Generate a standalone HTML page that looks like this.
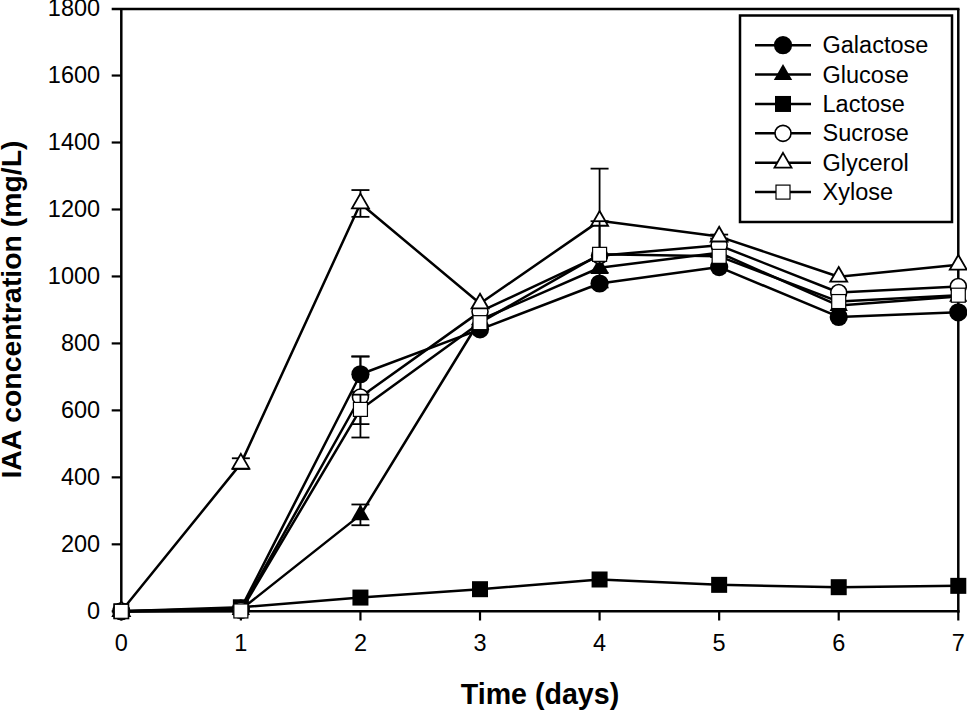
<!DOCTYPE html>
<html><head><meta charset="utf-8"><style>
html,body{margin:0;padding:0;background:#fff;width:967px;height:710px;overflow:hidden;}
svg{display:block;}
text{font-family:"Liberation Sans",sans-serif;}
</style></head><body>
<svg width="967" height="710" viewBox="0 0 967 710">
<rect width="967" height="710" fill="#fff"/>
<g stroke="#000" stroke-width="2.5" fill="none"><line x1="121.3" y1="8" x2="121.3" y2="612.55" /><line x1="120.05" y1="611.3" x2="959.54" y2="611.3" /><line x1="958.29" y1="612.55" x2="958.29" y2="8.9" /><line x1="959.54" y1="8.9" x2="111.7" y2="8.9" /></g>
<g stroke="#000" stroke-width="2.2" fill="none"><line x1="111.7" y1="611.30" x2="121.3" y2="611.30" /><line x1="111.7" y1="544.33" x2="121.3" y2="544.33" /><line x1="111.7" y1="477.36" x2="121.3" y2="477.36" /><line x1="111.7" y1="410.39" x2="121.3" y2="410.39" /><line x1="111.7" y1="343.42" x2="121.3" y2="343.42" /><line x1="111.7" y1="276.45" x2="121.3" y2="276.45" /><line x1="111.7" y1="209.48" x2="121.3" y2="209.48" /><line x1="111.7" y1="142.51" x2="121.3" y2="142.51" /><line x1="111.7" y1="75.54" x2="121.3" y2="75.54" /><line x1="121.30" y1="611.3" x2="121.30" y2="620.5" /><line x1="240.87" y1="611.3" x2="240.87" y2="620.5" /><line x1="360.44" y1="611.3" x2="360.44" y2="620.5" /><line x1="480.01" y1="611.3" x2="480.01" y2="620.5" /><line x1="599.58" y1="611.3" x2="599.58" y2="620.5" /><line x1="719.15" y1="611.3" x2="719.15" y2="620.5" /><line x1="838.72" y1="611.3" x2="838.72" y2="620.5" /><line x1="958.29" y1="611.3" x2="958.29" y2="620.5" /></g>
<g font-family="Liberation Sans" font-size="23.5" fill="#000"><text x="100.1" y="618.60" text-anchor="end">0</text><text x="100.1" y="551.63" text-anchor="end">200</text><text x="100.1" y="484.66" text-anchor="end">400</text><text x="100.1" y="417.69" text-anchor="end">600</text><text x="100.1" y="350.72" text-anchor="end">800</text><text x="100.1" y="283.75" text-anchor="end">1000</text><text x="100.1" y="216.78" text-anchor="end">1200</text><text x="100.1" y="149.81" text-anchor="end">1400</text><text x="100.1" y="82.84" text-anchor="end">1600</text><text x="100.1" y="16.47" text-anchor="end">1800</text><text x="121.30" y="651.4" text-anchor="middle">0</text><text x="240.87" y="651.4" text-anchor="middle">1</text><text x="360.44" y="651.4" text-anchor="middle">2</text><text x="480.01" y="651.4" text-anchor="middle">3</text><text x="599.58" y="651.4" text-anchor="middle">4</text><text x="719.15" y="651.4" text-anchor="middle">5</text><text x="838.72" y="651.4" text-anchor="middle">6</text><text x="958.29" y="651.4" text-anchor="middle">7</text></g>
<text x="540" y="703.8" text-anchor="middle" font-family="Liberation Sans" font-weight="bold" font-size="28.6" fill="#000">Time (days)</text>
<text transform="translate(21.3,309.5) rotate(-90)" x="0" y="0" text-anchor="middle" font-family="Liberation Sans" font-weight="bold" font-size="28.4" fill="#000">IAA concentration (mg/L)</text>
<polyline points="121.30,611.30 240.87,608.62 360.44,374.23 480.01,329.36 599.58,283.48 719.15,267.07 838.72,316.97 958.29,312.28" fill="none" stroke="#000" stroke-width="2.5" stroke-linejoin="round"/>
<g stroke="#000" stroke-width="1.8"><line x1="360.44" y1="356.48" x2="360.44" y2="391.97"/><line x1="351.44" y1="356.48" x2="369.44" y2="356.48"/><line x1="351.44" y1="391.97" x2="369.44" y2="391.97"/></g>
<circle cx="121.30" cy="611.30" r="9.1" fill="#000"/>
<circle cx="240.87" cy="608.62" r="9.1" fill="#000"/>
<circle cx="360.44" cy="374.23" r="9.1" fill="#000"/>
<circle cx="480.01" cy="329.36" r="9.1" fill="#000"/>
<circle cx="599.58" cy="283.48" r="9.1" fill="#000"/>
<circle cx="719.15" cy="267.07" r="9.1" fill="#000"/>
<circle cx="838.72" cy="316.97" r="9.1" fill="#000"/>
<circle cx="958.29" cy="312.28" r="9.1" fill="#000"/>
<polyline points="121.30,611.30 240.87,609.63 360.44,514.86 480.01,319.98 599.58,267.74 719.15,252.68 838.72,305.58 958.29,296.54" fill="none" stroke="#000" stroke-width="2.5" stroke-linejoin="round"/>
<g stroke="#000" stroke-width="1.8"><line x1="360.44" y1="504.48" x2="360.44" y2="525.24"/><line x1="351.44" y1="504.48" x2="369.44" y2="504.48"/><line x1="351.44" y1="525.24" x2="369.44" y2="525.24"/></g>
<polygon points="121.30,600.70 130.48,616.60 112.12,616.60" fill="#000"/>
<polygon points="240.87,599.03 250.05,614.93 231.69,614.93" fill="#000"/>
<polygon points="360.44,504.26 369.62,520.16 351.26,520.16" fill="#000"/>
<polygon points="480.01,309.38 489.19,325.28 470.83,325.28" fill="#000"/>
<polygon points="599.58,257.14 608.76,273.04 590.40,273.04" fill="#000"/>
<polygon points="719.15,242.08 728.33,257.98 709.97,257.98" fill="#000"/>
<polygon points="838.72,294.98 847.90,310.88 829.54,310.88" fill="#000"/>
<polygon points="958.29,285.94 967.47,301.84 949.11,301.84" fill="#000"/>
<polyline points="121.30,611.30 240.87,607.28 360.44,597.57 480.01,589.20 599.58,579.49 719.15,584.85 838.72,587.19 958.29,585.85" fill="none" stroke="#000" stroke-width="2.5" stroke-linejoin="round"/>
<rect x="113.30" y="603.30" width="16.00" height="16.00" fill="#000"/>
<rect x="232.87" y="599.28" width="16.00" height="16.00" fill="#000"/>
<rect x="352.44" y="589.57" width="16.00" height="16.00" fill="#000"/>
<rect x="472.01" y="581.20" width="16.00" height="16.00" fill="#000"/>
<rect x="591.58" y="571.49" width="16.00" height="16.00" fill="#000"/>
<rect x="711.15" y="576.85" width="16.00" height="16.00" fill="#000"/>
<rect x="830.72" y="579.19" width="16.00" height="16.00" fill="#000"/>
<rect x="950.29" y="577.85" width="16.00" height="16.00" fill="#000"/>
<polyline points="121.30,611.30 240.87,610.30 360.44,397.00 480.01,311.61 599.58,255.69 719.15,245.31 838.72,292.52 958.29,286.50" fill="none" stroke="#000" stroke-width="2.5" stroke-linejoin="round"/>
<g stroke="#000" stroke-width="1.8"><line x1="360.44" y1="356.48" x2="360.44" y2="437.51"/><line x1="351.44" y1="356.48" x2="369.44" y2="356.48"/><line x1="351.44" y1="437.51" x2="369.44" y2="437.51"/></g>
<circle cx="121.30" cy="611.30" r="8.0" fill="#fff" stroke="#000" stroke-width="1.6"/>
<circle cx="240.87" cy="610.30" r="8.0" fill="#fff" stroke="#000" stroke-width="1.6"/>
<circle cx="360.44" cy="397.00" r="8.0" fill="#fff" stroke="#000" stroke-width="1.6"/>
<circle cx="480.01" cy="311.61" r="8.0" fill="#fff" stroke="#000" stroke-width="1.6"/>
<circle cx="599.58" cy="255.69" r="8.0" fill="#fff" stroke="#000" stroke-width="1.6"/>
<circle cx="719.15" cy="245.31" r="8.0" fill="#fff" stroke="#000" stroke-width="1.6"/>
<circle cx="838.72" cy="292.52" r="8.0" fill="#fff" stroke="#000" stroke-width="1.6"/>
<circle cx="958.29" cy="286.50" r="8.0" fill="#fff" stroke="#000" stroke-width="1.6"/>
<polyline points="121.30,611.30 240.87,463.63 360.44,203.45 480.01,303.57 599.58,220.86 719.15,236.60 838.72,276.78 958.29,264.73" fill="none" stroke="#000" stroke-width="2.5" stroke-linejoin="round"/>
<g stroke="#000" stroke-width="1.8"><line x1="240.87" y1="458.27" x2="240.87" y2="468.99"/><line x1="231.87" y1="458.27" x2="249.87" y2="458.27"/><line x1="231.87" y1="468.99" x2="249.87" y2="468.99"/><line x1="360.44" y1="190.06" x2="360.44" y2="216.85"/><line x1="351.44" y1="190.06" x2="369.44" y2="190.06"/><line x1="351.44" y1="216.85" x2="369.44" y2="216.85"/><line x1="599.58" y1="168.63" x2="599.58" y2="273.10"/><line x1="590.58" y1="168.63" x2="608.58" y2="168.63"/><line x1="590.58" y1="273.10" x2="608.58" y2="273.10"/><line x1="719.15" y1="234.59" x2="719.15" y2="238.61"/><line x1="710.15" y1="234.59" x2="728.15" y2="234.59"/><line x1="710.15" y1="238.61" x2="728.15" y2="238.61"/></g>
<polygon points="121.30,601.50 129.79,616.20 112.81,616.20" fill="#fff" stroke="#000" stroke-width="1.8" stroke-linejoin="miter"/>
<polygon points="240.87,453.83 249.36,468.53 232.38,468.53" fill="#fff" stroke="#000" stroke-width="1.8" stroke-linejoin="miter"/>
<polygon points="360.44,193.65 368.93,208.35 351.95,208.35" fill="#fff" stroke="#000" stroke-width="1.8" stroke-linejoin="miter"/>
<polygon points="480.01,293.77 488.50,308.47 471.52,308.47" fill="#fff" stroke="#000" stroke-width="1.8" stroke-linejoin="miter"/>
<polygon points="599.58,211.06 608.07,225.76 591.09,225.76" fill="#fff" stroke="#000" stroke-width="1.8" stroke-linejoin="miter"/>
<polygon points="719.15,226.80 727.64,241.50 710.66,241.50" fill="#fff" stroke="#000" stroke-width="1.8" stroke-linejoin="miter"/>
<polygon points="838.72,266.98 847.21,281.68 830.23,281.68" fill="#fff" stroke="#000" stroke-width="1.8" stroke-linejoin="miter"/>
<polygon points="958.29,254.93 966.78,269.63 949.80,269.63" fill="#fff" stroke="#000" stroke-width="1.8" stroke-linejoin="miter"/>
<polyline points="121.30,611.30 240.87,610.97 360.44,409.39 480.01,322.66 599.58,254.35 719.15,256.36 838.72,301.56 958.29,295.20" fill="none" stroke="#000" stroke-width="2.5" stroke-linejoin="round"/>
<g stroke="#000" stroke-width="1.8"><line x1="360.44" y1="394.65" x2="360.44" y2="424.12"/><line x1="351.44" y1="394.65" x2="369.44" y2="394.65"/><line x1="351.44" y1="424.12" x2="369.44" y2="424.12"/><line x1="599.58" y1="221.20" x2="599.58" y2="287.50"/><line x1="590.58" y1="221.20" x2="608.58" y2="221.20"/><line x1="590.58" y1="287.50" x2="608.58" y2="287.50"/></g>
<rect x="114.30" y="604.30" width="14.00" height="14.00" fill="#fff" stroke="#000" stroke-width="1.2"/>
<rect x="233.87" y="603.97" width="14.00" height="14.00" fill="#fff" stroke="#000" stroke-width="1.2"/>
<rect x="353.44" y="402.39" width="14.00" height="14.00" fill="#fff" stroke="#000" stroke-width="1.2"/>
<rect x="473.01" y="315.66" width="14.00" height="14.00" fill="#fff" stroke="#000" stroke-width="1.2"/>
<rect x="592.58" y="247.35" width="14.00" height="14.00" fill="#fff" stroke="#000" stroke-width="1.2"/>
<rect x="712.15" y="249.36" width="14.00" height="14.00" fill="#fff" stroke="#000" stroke-width="1.2"/>
<rect x="831.72" y="294.56" width="14.00" height="14.00" fill="#fff" stroke="#000" stroke-width="1.2"/>
<rect x="951.29" y="288.20" width="14.00" height="14.00" fill="#fff" stroke="#000" stroke-width="1.2"/>
<rect x="740" y="15.5" width="212" height="206.5" fill="#fff" stroke="#000" stroke-width="2.5"/><line x1="755" y1="45.20" x2="811" y2="45.20" stroke="#000" stroke-width="2.5"/><circle cx="783.00" cy="45.20" r="9.1" fill="#000"/><text x="822.5" y="53.20" font-family="Liberation Sans" font-size="23.5" fill="#000">Galactose</text><line x1="755" y1="74.58" x2="811" y2="74.58" stroke="#000" stroke-width="2.5"/><polygon points="783.00,63.98 792.18,79.88 773.82,79.88" fill="#000"/><text x="822.5" y="82.58" font-family="Liberation Sans" font-size="23.5" fill="#000">Glucose</text><line x1="755" y1="103.96" x2="811" y2="103.96" stroke="#000" stroke-width="2.5"/><rect x="775.00" y="95.96" width="16.00" height="16.00" fill="#000"/><text x="822.5" y="111.96" font-family="Liberation Sans" font-size="23.5" fill="#000">Lactose</text><line x1="755" y1="133.34" x2="811" y2="133.34" stroke="#000" stroke-width="2.5"/><circle cx="783.00" cy="133.34" r="8.0" fill="#fff" stroke="#000" stroke-width="1.6"/><text x="822.5" y="141.34" font-family="Liberation Sans" font-size="23.5" fill="#000">Sucrose</text><line x1="755" y1="162.72" x2="811" y2="162.72" stroke="#000" stroke-width="2.5"/><polygon points="783.00,152.92 791.49,167.62 774.51,167.62" fill="#fff" stroke="#000" stroke-width="1.8" stroke-linejoin="miter"/><text x="822.5" y="170.72" font-family="Liberation Sans" font-size="23.5" fill="#000">Glycerol</text><line x1="755" y1="192.10" x2="811" y2="192.10" stroke="#000" stroke-width="2.5"/><rect x="776.00" y="185.10" width="14.00" height="14.00" fill="#fff" stroke="#000" stroke-width="1.2"/><text x="822.5" y="200.10" font-family="Liberation Sans" font-size="23.5" fill="#000">Xylose</text>
</svg>
</body></html>
